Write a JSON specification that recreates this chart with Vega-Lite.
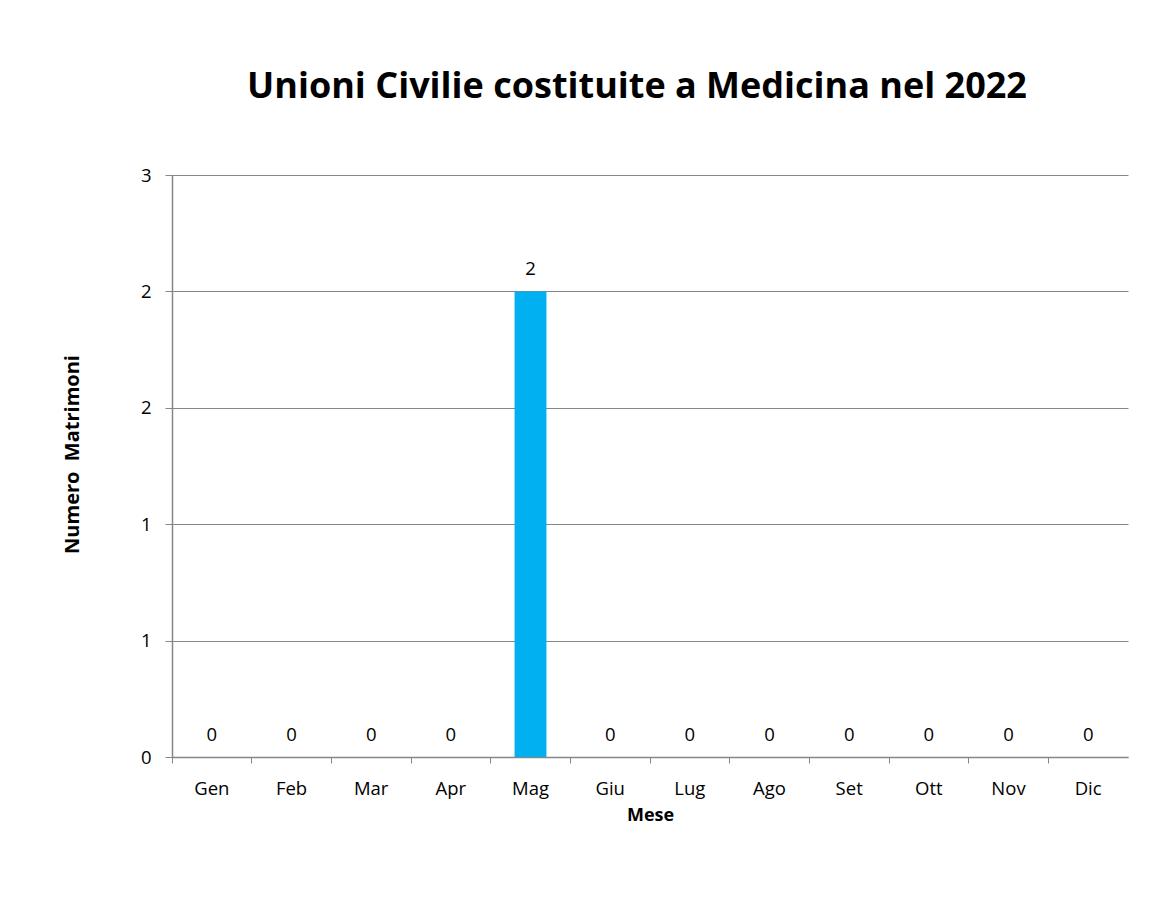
{
  "$schema": "https://vega.github.io/schema/vega-lite/v6.json",
  "autosize": {"type": "none"},
  "width": 956,
  "height": 582,
  "padding": {"left": 172, "top": 175, "right": 41, "bottom": 149},
  "background": "white",
  "title": {
    "text": "Unioni Civilie costituite a Medicina nel 2022",
    "font": "Open Sans",
    "fontSize": 36,
    "fontWeight": "bold",
    "color": "#000000",
    "anchor": "middle",
    "dx": -13,
    "offset": 60
  },
  "config": {
    "view": {"stroke": null},
    "axis": {"labelFont": "Open Sans", "titleFont": "Open Sans", "labelColor": "#000000", "titleColor": "#000000"}
  },
  "data": {
    "values": [
      {"mese": "Gen", "n": 0},
      {"mese": "Feb", "n": 0},
      {"mese": "Mar", "n": 0},
      {"mese": "Apr", "n": 0},
      {"mese": "Mag", "n": 2},
      {"mese": "Giu", "n": 0},
      {"mese": "Lug", "n": 0},
      {"mese": "Ago", "n": 0},
      {"mese": "Set", "n": 0},
      {"mese": "Ott", "n": 0},
      {"mese": "Nov", "n": 0},
      {"mese": "Dic", "n": 0}
    ]
  },
  "encoding": {
    "x": {
      "field": "mese",
      "type": "nominal",
      "sort": null,
      "scale": {"paddingInner": 0, "paddingOuter": 0},
      "axis": {
        "title": "Mese",
        "titleFontSize": 18,
        "titleFontWeight": "bold",
        "titlePadding": 9,
        "labelAngle": 0,
        "labelFontSize": 18.5,
        "labelPadding": 16,
        "tickSize": 6,
        "tickColor": "#868686",
        "domainColor": "#868686",
        "domainWidth": 1.5,
        "tickWidth": 1,
        "bandPosition": 0,
        "grid": false
      }
    },
    "y": {
      "field": "n",
      "type": "quantitative",
      "scale": {"domain": [0, 2.5], "nice": false},
      "axis": {
        "title": "Numero\u00a0 Matrimoni",
        "titleFontSize": 20,
        "titleFontWeight": "bold",
        "titlePadding": 58,
        "titleY": 279,
        "values": [0, 0.5, 1, 1.5, 2, 2.5],
        "labelExpr": "round(datum.value)",
        "labelFontSize": 18.5,
        "labelPadding": 14,
        "tickSize": 7,
        "tickColor": "#868686",
        "domainColor": "#868686",
        "domainWidth": 1.5,
        "grid": true,
        "gridColor": "#868686",
        "gridWidth": 1
      }
    }
  },
  "layer": [
    {
      "mark": {"type": "bar", "color": "#00B0F0", "width": {"band": 0.4}}
    },
    {
      "mark": {"type": "text", "font": "Open Sans", "fontSize": 18.5, "baseline": "bottom", "dy": -12, "color": "#000000"},
      "encoding": {"text": {"field": "n", "type": "quantitative"}}
    }
  ]
}
